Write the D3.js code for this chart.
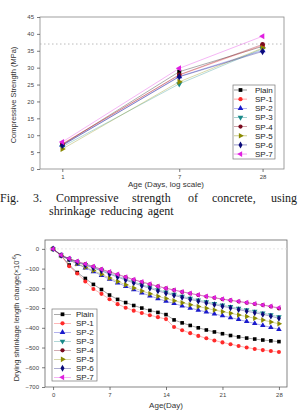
<!DOCTYPE html>
<html>
<head>
<meta charset="utf-8">
<script src="https://cdn.jsdelivr.net/npm/d3@7"></script>
<style>
  body { margin: 0; background: #fff; }
  svg { display: block; font-family: "Liberation Sans", Arial, sans-serif; }
</style>
</head>
<body>
<div id="chart"></div>
<script>
// ---- data ----
const seriesNames = ["Plain", "SP-1", "SP-2", "SP-3", "SP-4", "SP-5", "SP-6", "SP-7"];
const seriesColors = ["#000000", "#ff2a2a", "#1a1acc", "#1a8a8a", "#7a0a1e", "#8a8a00", "#0a0a7a", "#e020e0"];
const seriesShapes = ["square", "circle", "up", "down", "circle", "right", "diamond", "left"];

// compressive strength (MPa) at 1, 7, 28 days
const strengthAges = [1, 7, 28];
const strengthPlain = [7.2, 28.8, 36.3];
const strengthSP1 = [7.5, 27.8, 36.6];
const strengthSP2 = [7.0, 27.4, 35.1];
const strengthSP3 = [6.6, 25.2, 35.6];
const strengthSP4 = [7.3, 27.9, 36.9];
const strengthSP5 = [5.9, 25.8, 35.8];
const strengthSP6 = [7.0, 27.3, 34.8];
const strengthSP7 = [8.0, 29.8, 39.3];
const strengthRef = 37;
const strengthTicks = [0, 5, 10, 15, 20, 25, 30, 35, 40, 45];

// drying shrinkage (x10^-6), day 0..28
const shrinkDays = d3.range(0, 29);
const shrinkPlain = [0, -33, -82, -120, -150, -180, -206, -234, -256, -272, -287, -300, -312, -322, -333, -360, -375, -388, -400, -411, -421, -430, -439, -446, -452, -457, -462, -466, -470];
const shrinkSP1 = [0, -35, -88, -125, -165, -203, -228, -255, -280, -298, -313, -325, -336, -346, -356, -396, -412, -427, -441, -453, -464, -474, -483, -492, -500, -507, -513, -518, -523];
const shrinkSP2 = [0, -34, -56, -77, -96, -115, -134, -154, -172, -190, -207, -223, -238, -252, -265, -277, -289, -300, -310, -320, -330, -339, -348, -358, -368, -378, -388, -398, -408];
const shrinkSP3 = [0, -32, -51, -66, -80, -94, -108, -123, -138, -153, -167, -181, -194, -207, -219, -230, -240, -250, -259, -268, -277, -285, -293, -301, -309, -317, -325, -334, -344];
const shrinkSP4 = [0, -32, -50, -64, -77, -90, -104, -117, -130, -143, -156, -168, -179, -190, -200, -209, -218, -226, -234, -241, -248, -255, -261, -267, -273, -279, -285, -292, -302];
const shrinkSP5 = [0, -34, -55, -75, -93, -110, -128, -148, -165, -182, -198, -213, -227, -240, -252, -263, -273, -283, -292, -301, -310, -318, -326, -335, -343, -352, -361, -370, -380];
const shrinkSP6 = [0, -33, -52, -68, -83, -97, -112, -128, -143, -158, -173, -187, -200, -213, -225, -236, -246, -256, -265, -274, -283, -291, -299, -308, -316, -324, -332, -341, -352];
const shrinkSP7 = [0, -31, -49, -63, -76, -89, -103, -116, -129, -142, -155, -167, -178, -189, -199, -208, -217, -225, -233, -240, -247, -254, -260, -266, -272, -278, -284, -291, -298];
const shrinkXTicks = [0, 7, 14, 21, 28];
const shrinkYTicks = [0, -100, -200, -300, -400, -500, -600, -700];

const strengthSeries = [strengthPlain, strengthSP1, strengthSP2, strengthSP3, strengthSP4, strengthSP5, strengthSP6, strengthSP7];
const shrinkSeries = [shrinkPlain, shrinkSP1, shrinkSP2, shrinkSP3, shrinkSP4, shrinkSP5, shrinkSP6, shrinkSP7];

// ---- helpers ----
function marker(sel, shape, color, size) {
    const sym = {
        square: d3.symbolSquare, circle: d3.symbolCircle, diamond: d3.symbolDiamond,
        up: d3.symbolTriangle, down: d3.symbolTriangle, right: d3.symbolTriangle, left: d3.symbolTriangle
    }[shape];
    const rot = { down: 180, right: 90, left: -90 }[shape] || 0;
    sel.append("path")
        .attr("d", d3.symbol().type(sym).size(size))
        .attr("transform", d => `translate(${d[0]},${d[1]}) rotate(${rot})`)
        .attr("fill", color);
}

function styleAxis(g) {
    g.select(".domain").remove();
    g.selectAll(".tick line").attr("stroke", "#444").attr("stroke-width", 0.7);
    g.selectAll(".tick text").attr("fill", "#444").style("font-size", "6px");
}

function legend(svg, x, y, w, h, rowY, lineX, textX) {
    const g = svg.append("g");
    g.append("rect").attr("x", x).attr("y", y).attr("width", w).attr("height", h)
        .attr("fill", "#fff").attr("stroke", "#777").attr("stroke-width", 0.7);
    seriesNames.forEach((name, i) => {
        const yy = rowY(i);
        g.append("line").attr("x1", lineX[0]).attr("x2", lineX[1]).attr("y1", yy).attr("y2", yy)
            .attr("stroke", seriesColors[i]).attr("stroke-width", 0.6).attr("opacity", 0.7);
        g.append("g").datum([(lineX[0] + lineX[1]) / 2, yy]).call(s => marker(s, seriesShapes[i], seriesColors[i], 14));
        g.append("text").attr("x", textX).attr("y", yy + 3).text(name)
            .style("font-size", "8px").attr("fill", "#222");
    });
}

const svg = d3.select("#chart").append("svg").attr("width", 298).attr("height", 414);

// ---- top chart: compressive strength ----
const topBox = { left: 40, right: 284, top: 17, bottom: 169 };
const xTop = d3.scaleLog().domain([0.69, 40]).range([topBox.left, topBox.right]);
const yTop = d3.scaleLinear().domain([0, 45]).range([topBox.bottom, topBox.top]);

svg.append("rect").attr("x", topBox.left).attr("y", topBox.top)
    .attr("width", topBox.right - topBox.left).attr("height", topBox.bottom - topBox.top)
    .attr("fill", "none").attr("stroke", "#888").attr("stroke-width", 0.8);

svg.append("line").attr("x1", topBox.left).attr("x2", topBox.right)
    .attr("y1", yTop(strengthRef)).attr("y2", yTop(strengthRef))
    .attr("stroke", "#aaa").attr("stroke-width", 0.8).attr("stroke-dasharray", "1.5,2.5");

svg.append("g").attr("transform", `translate(${topBox.left},0)`)
    .call(d3.axisLeft(yTop).tickValues(strengthTicks).tickSize(3).tickPadding(3))
    .call(styleAxis);
svg.append("g").attr("transform", `translate(0,${topBox.bottom})`)
    .call(d3.axisBottom(xTop).tickValues(strengthAges).tickFormat(d3.format("d")).tickSize(3).tickPadding(3))
    .call(styleAxis);

const lineTop = d3.line().x((d, i) => xTop(strengthAges[i])).y(d => yTop(d));
strengthSeries.forEach((vals, i) => {
    svg.append("path").datum(vals).attr("d", lineTop)
        .attr("fill", "none").attr("stroke", seriesColors[i]).attr("stroke-width", 0.6).attr("opacity", 0.55);
});
strengthSeries.forEach((vals, i) => {
    svg.append("g").selectAll("g").data(vals.map((v, j) => [xTop(strengthAges[j]), yTop(v)]))
        .join("g").call(s => marker(s, seriesShapes[i], seriesColors[i], 16));
});

svg.append("text").attr("transform", `translate(16,${(topBox.top + topBox.bottom) / 2 + 2}) rotate(-90)`)
    .attr("text-anchor", "middle").style("font-size", "7.5px").attr("fill", "#333")
    .text("Compressive Strength (MPa)");
svg.append("text").attr("x", 166).attr("y", 187).attr("text-anchor", "middle")
    .style("font-size", "8px").attr("fill", "#333").text("Age (Days, log scale)");

legend(svg, 233, 85, 42, 74, i => 90 + i * 9.15, [234, 247], 255);

// ---- caption ----
const cap = svg.append("text").style("font-family", "'Liberation Serif', 'DejaVu Serif', serif")
    .style("font-size", "12px").attr("fill", "#1a1a1a");
const capWords1 = [["Fig.", 0], ["3.", 33], ["Compressive", 56], ["strength", 132], ["of", 188], ["concrete,", 212], ["using", 271]];
capWords1.forEach(([w, x]) => cap.append("tspan").attr("x", x).attr("y", 202).text(w));
cap.append("tspan").attr("x", 49).attr("y", 215).attr("word-spacing", "2px").text("shrinkage reducing agent");

// ---- bottom chart: drying shrinkage ----
const botBox = { left: 45, right: 287, top: 240, bottom: 387 };
const xBot = d3.scaleLinear().domain([-1, 29]).range([botBox.left, botBox.right]);
const yBot = d3.scaleLinear().domain([-700, 45]).range([botBox.bottom, botBox.top]);

svg.append("rect").attr("x", botBox.left).attr("y", botBox.top)
    .attr("width", botBox.right - botBox.left).attr("height", botBox.bottom - botBox.top)
    .attr("fill", "none").attr("stroke", "#666").attr("stroke-width", 0.8);
svg.append("line").attr("x1", botBox.left).attr("x2", botBox.right)
    .attr("y1", yBot(0)).attr("y2", yBot(0))
    .attr("stroke", "#ddd").attr("stroke-width", 0.8).attr("stroke-dasharray", "2,2");

svg.append("g").attr("transform", `translate(${botBox.left},0)`)
    .call(d3.axisLeft(yBot).tickValues(shrinkYTicks).tickSize(3).tickPadding(3))
    .call(styleAxis);
svg.append("g").attr("transform", `translate(0,${botBox.bottom})`)
    .call(d3.axisBottom(xBot).tickValues(shrinkXTicks).tickSize(3).tickPadding(3))
    .call(styleAxis);

const lineBot = d3.line().x((d, i) => xBot(shrinkDays[i])).y(d => yBot(d));
shrinkSeries.forEach((vals, i) => {
    svg.append("path").datum(vals).attr("d", lineBot)
        .attr("fill", "none").attr("stroke", seriesColors[i]).attr("stroke-width", 0.6).attr("opacity", 0.6);
    svg.append("g").selectAll("g").data(vals.map((v, j) => [xBot(shrinkDays[j]), yBot(v)]))
        .join("g").call(s => marker(s, seriesShapes[i], seriesColors[i], 13));
});

const yt = svg.append("text").attr("transform", `translate(19,${(botBox.top + botBox.bottom) / 2 + 4}) rotate(-90)`)
    .attr("text-anchor", "middle").style("font-size", "7.5px").attr("fill", "#333");
yt.append("tspan").text("Drying shrinkage length change(\u00d710");
yt.append("tspan").attr("dy", -3).style("font-size", "5px").text("-6");
yt.append("tspan").attr("dy", 3).text(")");
svg.append("text").attr("x", 166).attr("y", 408).attr("text-anchor", "middle")
    .style("font-size", "8px").attr("fill", "#333").text("Age(Day)");

legend(svg, 52, 309, 45, 72, i => 314.3 + i * 9, [54, 71], 76);
</script>
</body>
</html>
